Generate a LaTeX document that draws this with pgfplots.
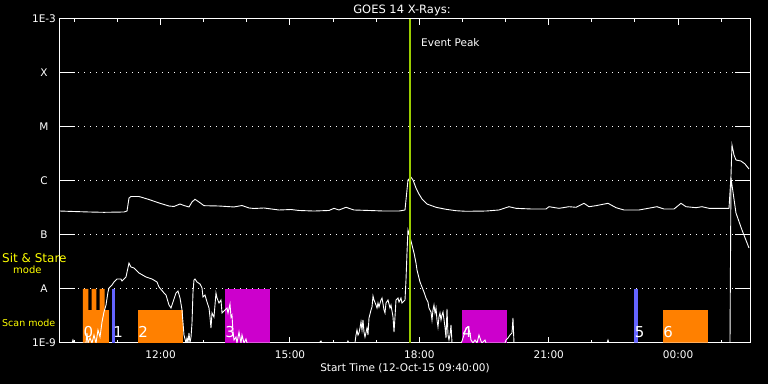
\documentclass[border=0pt]{standalone}
\usepackage{pgfplots}
\pgfplotsset{compat=1.18}
\usepackage{fontspec}
\setmainfont{DejaVu Sans}
\definecolor{barorange}{RGB}{255,128,0}
\definecolor{barmag}{RGB}{204,0,204}
\definecolor{barblue}{RGB}{100,100,255}
\definecolor{peakgreen}{RGB}{155,205,0}
\definecolor{modeyellow}{RGB}{255,255,0}
\begin{document}
\begin{tikzpicture}
\fill[black] (0,0) rectangle (768bp,384bp);
\begin{axis}[
  at={(60bp,41bp)}, anchor=south west,
  width=690bp, height=324bp, scale only axis,
  xmin=9.667, xmax=25.667, ymin=-9, ymax=-3,
  axis line style={white, line width=1bp},
  every tick/.style={white, line width=1bp},
  major tick length=6bp, minor tick length=3bp,
  xtick={12,15,18,21,24},
  xticklabels={12:00,15:00,18:00,21:00,00:00},
  minor xtick={10,11,13,14,16,17,19,20,22,23,25},
  ytick={-9,-8,-7,-6,-5,-4,-3},
  yticklabels={1E-9,A,B,C,M,X,1E-3},
  ymajorgrids,
  grid style={white, line width=1bp, dash pattern=on 1bp off 5bp},
  extra y ticks={-8,-7,-6,-5,-4},
  extra y tick labels={},
  extra y tick style={grid=major, major grid style={white, line width=1bp, solid, dash pattern=on 15bp off 660bp}},
  tick label style={white, font=\fontsize{10.5bp}{12bp}\selectfont},
  xticklabel style={anchor=base, yshift=-16bp},
  yticklabel style={anchor=center, xshift=-16bp},
  xlabel={Start Time (12-Oct-15 09:40:00)},
  xlabel style={white, font=\fontsize{10.5bp}{12bp}\selectfont, at={(axis description cs:0.5,0)}, anchor=base, yshift=-29bp},
  clip=true,
]
% mode bars
\addplot[fill=barorange, draw=none] coordinates {(10.200,-9) (10.200,-8) (10.323,-8) (10.323,-8.389) (10.402,-8.389) (10.402,-8) (10.509,-8) (10.509,-8.389) (10.588,-8.389) (10.588,-8) (10.704,-8) (10.704,-8.389) (10.803,-8.389) (10.803,-9)} --cycle;
\addplot[fill=barblue, draw=none] coordinates {(10.873,-9) (10.873,-8) (10.942,-8) (10.942,-9)} --cycle;
\addplot[fill=barorange, draw=none] coordinates {(11.476,-9) (11.476,-8.389) (12.519,-8.389) (12.519,-9)} --cycle;
\addplot[fill=barmag, draw=none] coordinates {(13.493,-9) (13.493,-8) (14.536,-8) (14.536,-9)} --cycle;
\addplot[fill=barmag, draw=none] coordinates {(18.989,-9) (18.989,-8.389) (20.032,-8.389) (20.032,-9)} --cycle;
\addplot[fill=barblue, draw=none] coordinates {(22.977,-9) (22.977,-8) (23.070,-8) (23.070,-9)} --cycle;
\addplot[fill=barorange, draw=none] coordinates {(23.649,-9) (23.649,-8.389) (24.693,-8.389) (24.693,-9)} --cycle;
% long channel
\addplot[white, line width=0.9bp] coordinates {
(9.667,-6.556) (9.992,-6.565) (10.339,-6.574) (10.687,-6.580) (11.151,-6.574) (11.221,-6.556)
(11.267,-6.315) (11.313,-6.287) (11.499,-6.287) (11.731,-6.343) (11.963,-6.407) (12.194,-6.463)
(12.310,-6.472) (12.450,-6.426) (12.542,-6.454) (12.658,-6.481) (12.728,-6.389) (12.797,-6.339)
(12.890,-6.389) (13.006,-6.457) (13.354,-6.463) (13.702,-6.481) (13.887,-6.454) (14.050,-6.500)
(14.165,-6.509) (14.397,-6.500) (14.745,-6.537) (15.023,-6.528) (15.209,-6.546) (15.557,-6.556)
(15.905,-6.546) (16.021,-6.506) (16.136,-6.537) (16.299,-6.487) (16.484,-6.537) (16.832,-6.546)
(17.180,-6.556) (17.528,-6.556) (17.667,-6.537) (17.690,-6.352) (17.736,-5.981) (17.806,-5.931)
(17.852,-5.981) (17.922,-6.130) (17.991,-6.241) (18.061,-6.333) (18.177,-6.426) (18.386,-6.487)
(18.618,-6.524) (18.849,-6.550) (19.081,-6.561) (19.545,-6.556) (19.847,-6.537) (20.078,-6.476)
(20.241,-6.506) (20.612,-6.519) (20.936,-6.519) (21.006,-6.476) (21.238,-6.506) (21.470,-6.476)
(21.632,-6.487) (21.818,-6.413) (21.933,-6.476) (22.096,-6.457) (22.374,-6.413) (22.560,-6.494)
(22.745,-6.537) (23.093,-6.537) (23.510,-6.476) (23.673,-6.519) (23.904,-6.519) (24.067,-6.413)
(24.183,-6.476) (24.415,-6.494) (24.554,-6.476) (24.716,-6.506) (25.180,-6.506) (25.226,-5.907)
(25.249,-5.333) (25.296,-5.519) (25.342,-5.611) (25.458,-5.630) (25.551,-5.685) (25.644,-5.778)
};
% short channel
\addplot[white, line width=0.9bp] coordinates {
(9.667,-9) (9.945,-9) (9.968,-8.944) (9.992,-9) (10.270,-9) (10.293,-8.815) (10.316,-9)
(10.363,-8.907) (10.409,-9) (10.455,-8.852) (10.502,-9) (10.548,-8.759) (10.595,-8.889)
(10.641,-8.611) (10.687,-8.426) (10.734,-8.296) (10.780,-8.056) (10.803,-7.981) (10.873,-7.926)
(10.919,-7.870) (10.989,-7.815) (11.081,-7.815) (11.105,-7.852) (11.197,-7.778) (11.267,-7.519)
(11.313,-7.593) (11.383,-7.611) (11.499,-7.704) (11.661,-7.778) (11.800,-7.815) (11.916,-7.870)
(11.963,-7.963) (12.079,-8.074) (12.125,-8.111) (12.194,-8.296) (12.241,-8.352) (12.264,-8.296)
(12.357,-8.074) (12.403,-8.037) (12.450,-8.167) (12.496,-8.389) (12.542,-8.852) (12.589,-9)
(12.612,-8.907) (12.635,-9) (12.658,-8.815) (12.681,-9) (12.705,-8.889) (12.728,-8.630)
(12.751,-8.056) (12.774,-7.833) (12.797,-7.815) (12.844,-7.870) (12.913,-7.907) (12.960,-7.981)
(12.983,-8.148) (13.029,-8.111) (13.076,-8.241) (13.122,-8.352) (13.145,-8.519) (13.168,-8.722)
(13.192,-8.444) (13.238,-8.519) (13.284,-8.074) (13.308,-8.167) (13.354,-8.259) (13.400,-8.204)
(13.424,-8.444) (13.493,-8.389) (13.539,-8.352) (13.563,-8.444) (13.609,-8.278) (13.632,-8.519)
(13.655,-8.481) (13.679,-8.796) (13.702,-8.944) (13.748,-8.889) (13.771,-9) (13.818,-8.796)
(13.864,-9) (13.887,-8.852) (13.934,-9) (13.980,-8.926) (14.003,-9) (15.673,-9) (15.719,-8.963)
(15.742,-9) (16.322,-9) (16.345,-8.963) (16.368,-9) (16.507,-9) (16.531,-8.852) (16.554,-8.759)
(16.577,-8.852) (16.600,-8.815) (16.623,-8.722) (16.647,-8.611) (16.670,-8.759) (16.693,-8.574)
(16.716,-8.796) (16.739,-8.889) (16.786,-8.722) (16.809,-8.852) (16.832,-8.537) (16.878,-8.389)
(16.902,-8.333) (16.925,-8.130) (16.948,-8.204) (16.994,-8.296) (17.018,-8.352) (17.041,-8.259)
(17.064,-8.333) (17.110,-8.204) (17.134,-8.167) (17.180,-8.389) (17.203,-8.444) (17.226,-8.259)
(17.273,-8.204) (17.319,-8.352) (17.342,-8.296) (17.389,-8.519) (17.412,-8.796) (17.435,-8.519)
(17.458,-8.204) (17.505,-8.167) (17.528,-8.241) (17.574,-8.167) (17.597,-8.259) (17.667,-8.204)
(17.690,-7.833) (17.713,-7.333) (17.736,-6.907) (17.783,-7.037) (17.829,-7.185) (17.876,-7.333)
(17.922,-7.519) (17.945,-7.648) (17.991,-7.796) (18.015,-7.870) (18.061,-7.963) (18.107,-8.056)
(18.154,-8.167) (18.200,-8.241) (18.223,-8.352) (18.270,-8.426) (18.293,-8.574) (18.316,-8.389)
(18.339,-8.296) (18.363,-8.444) (18.386,-8.352) (18.409,-8.574) (18.432,-8.704) (18.455,-8.519)
(18.478,-8.444) (18.502,-8.574) (18.525,-8.481) (18.548,-8.426) (18.594,-8.704) (18.618,-8.907)
(18.641,-8.370) (18.664,-8.852) (18.687,-8.944) (18.710,-8.852) (18.734,-8.667) (18.757,-9)
(18.965,-9) (18.989,-8.963) (19.012,-8.907) (19.058,-8.796) (19.081,-8.722) (19.128,-8.704)
(19.174,-8.815) (19.197,-8.944) (19.244,-9) (19.290,-8.944) (19.336,-9) (19.383,-8.852)
(19.429,-8.963) (19.452,-9) (19.522,-8.944) (19.545,-9) (19.986,-9) (20.009,-8.944)
(20.055,-8.907) (20.102,-8.852) (20.148,-8.815) (20.171,-8.537) (20.194,-9) (22.351,-9)
(22.374,-8.944) (22.397,-9) (25.203,-9) (25.226,-5.944) (25.342,-6.593) (25.481,-6.907)
(25.644,-7.241)
};
% event peak
\addplot[peakgreen, line width=2.8bp] coordinates {(17.783,-9) (17.783,-3)};
% bar numbers
\begin{scope}[every node/.style={anchor=base west, inner sep=0pt, white, font=\fontsize{15bp}{16bp}\selectfont, yshift=5bp}]
\node at (axis cs:10.210,-9) {0};
\node at (axis cs:10.900,-9) {1};
\node at (axis cs:11.480,-9) {2};
\node at (axis cs:13.500,-9) {3};
\node at (axis cs:18.995,-9) {4};
\node at (axis cs:22.990,-9) {5};
\node at (axis cs:23.655,-9) {6};
\end{scope}
\end{axis}
\begin{scope}[every node/.style={inner sep=0pt}]
\node[anchor=base, text=white, font=\fontsize{11.5bp}{13bp}\selectfont] at (402bp,370bp) {GOES 14 X-Rays:};
\node[anchor=base west, text=modeyellow, font=\fontsize{12bp}{13bp}\selectfont] at (2bp,121bp) {Sit \& Stare};
\node[anchor=base west, text=modeyellow, font=\fontsize{10bp}{12bp}\selectfont] at (13bp,110bp) {mode};
\node[anchor=base west, text=modeyellow, font=\fontsize{9.5bp}{12bp}\selectfont] at (2bp,57bp) {Scan mode};
\node[anchor=base west, text=white, font=\fontsize{10.5bp}{12bp}\selectfont] at (421bp,337bp) {Event Peak};
\end{scope}
\pgfresetboundingbox
\path[use as bounding box] (0,0) rectangle (768bp,384bp);
\end{tikzpicture}
\end{document}
